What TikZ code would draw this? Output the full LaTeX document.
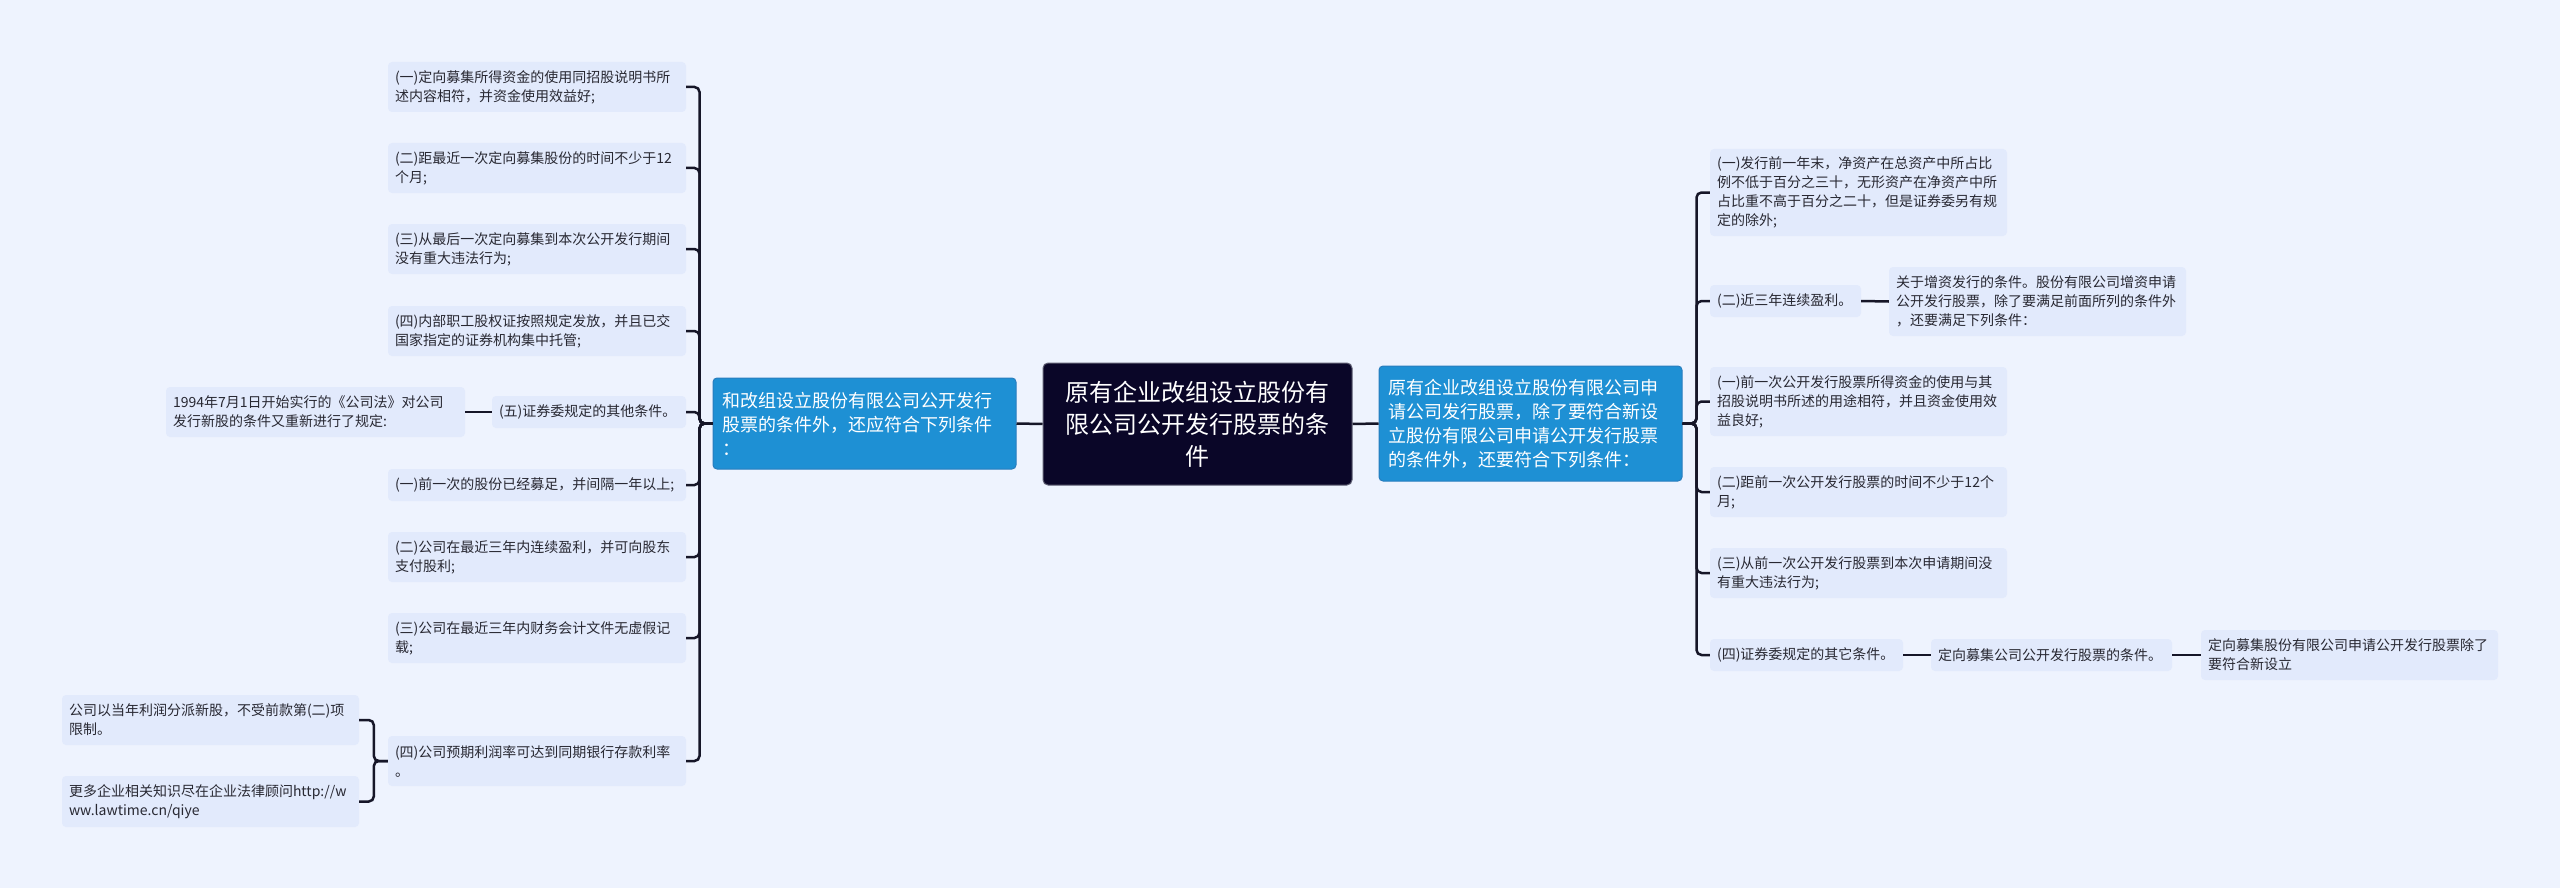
\documentclass[tikz,border=0pt]{standalone}
\usepackage{fontspec}
\setmainfont{Noto Sans CJK SC}
\definecolor{bg}{RGB}{238,243,254}
\definecolor{leaf}{RGB}{226,234,252}
\definecolor{blu}{RGB}{30,144,212}
\definecolor{bluedge}{RGB}{40,125,190}
\definecolor{dark}{RGB}{10,6,40}
\definecolor{darkedge}{RGB}{95,95,115}
\definecolor{ln}{RGB}{22,22,40}
\definecolor{txt}{RGB}{40,40,50}
\newcommand\mmnode[8]{%
  \pgfmathsetmacro\mmw{#5-#3}%
  \pgfmathsetmacro\mmh{#6-#4}%
  \pgfmathsetmacro\mmtw{#5-#3-2*#7}%
  \node[#1, inner xsep=#7pt, minimum width=\mmw pt, minimum height=\mmh pt, text width=\mmtw pt] (#2) at ({(#3+#5)/2},{(#4+#6)/2}) {#8};%
}
\tikzset{
  leafbox/.style={fill=leaf, rounded corners=4pt, text=txt, align=left, font=\fontsize{14pt}{19pt}\selectfont, inner ysep=0pt},
  bluebox/.style={fill=blu, draw=bluedge, line width=1pt, rounded corners=4pt, text=white, align=left, font=\fontsize{18pt}{24pt}\selectfont, inner ysep=0pt},
  rootbox/.style={fill=dark, draw=darkedge, line width=1pt, rounded corners=5pt, text=white, align=center, font=\fontsize{24pt}{32pt}\selectfont, inner ysep=0pt},
  conn/.style={draw=ln, line width=2.5pt, rounded corners=5pt}
}
\begin{document}
\begin{tikzpicture}[x=1pt,y=-1pt]
\fill[bg] (0,0) rectangle (2560,888);
\useasboundingbox (0,0) rectangle (2560,888);

% center
\mmnode{rootbox}{root}{1043}{363}{1352}{485}{10}{原有企业改组设立股份有\\限公司公开发行股票的条\\件}
\mmnode{bluebox}{lb}{713}{378}{1016}{469}{9}{和改组设立股份有限公司公开发行\\股票的条件外，还应符合下列条件\\：}
\mmnode{bluebox}{rb}{1379}{366}{1682}{481}{9}{原有企业改组设立股份有限公司申\\请公司发行股票，除了要符合新设\\立股份有限公司申请公开发行股票\\的条件外，还要符合下列条件：}

% left
\mmnode{leafbox}{L1}{388}{62}{686}{112}{7}{(一)定向募集所得资金的使用同招股说明书所\\述内容相符，并资金使用效益好;}
\mmnode{leafbox}{L2}{388}{143}{686}{193}{7}{(二)距最近一次定向募集股份的时间不少于12\\个月;}
\mmnode{leafbox}{L3}{388}{224}{686}{274}{7}{(三)从最后一次定向募集到本次公开发行期间\\没有重大违法行为;}
\mmnode{leafbox}{L4}{388}{306}{686}{356}{7}{(四)内部职工股权证按照规定发放，并且已交\\国家指定的证券机构集中托管;}
\mmnode{leafbox}{L5}{492}{396}{686}{428}{7}{(五)证券委规定的其他条件。}
\mmnode{leafbox}{L5c}{166}{387}{465}{437}{7}{1994年7月1日开始实行的《公司法》对公司\\发行新股的条件又重新进行了规定:}
\mmnode{leafbox}{L6}{388}{469}{686}{501}{7}{(一)前一次的股份已经募足，并间隔一年以上;}
\mmnode{leafbox}{L7}{388}{532}{686}{582}{7}{(二)公司在最近三年内连续盈利，并可向股东\\支付股利;}
\mmnode{leafbox}{L8}{388}{613}{686}{663}{7}{(三)公司在最近三年内财务会计文件无虚假记\\载;}
\mmnode{leafbox}{L9}{388}{736}{686}{786}{7}{(四)公司预期利润率可达到同期银行存款利率\\。}
\mmnode{leafbox}{C1}{62}{695}{359}{745}{7}{公司以当年利润分派新股，不受前款第(二)项\\限制。}
\mmnode{leafbox}{C2}{62}{776}{359}{827}{7}{更多企业相关知识尽在企业法律顾问http://w\\ww.lawtime.cn/qiye}

% right
\mmnode{leafbox}{R1}{1710}{149}{2007}{236}{7}{(一)发行前一年末，净资产在总资产中所占比\\例不低于百分之三十，无形资产在净资产中所\\占比重不高于百分之二十，但是证券委另有规\\定的除外;}
\mmnode{leafbox}{R2}{1710}{285}{1861}{317}{7}{(二)近三年连续盈利。}
\mmnode{leafbox}{R2c}{1889}{267}{2186}{336}{7}{关于增资发行的条件。股份有限公司增资申请\\公开发行股票，除了要满足前面所列的条件外\\，还要满足下列条件：}
\mmnode{leafbox}{R3}{1710}{367}{2007}{436}{7}{(一)前一次公开发行股票所得资金的使用与其\\招股说明书所述的用途相符，并且资金使用效\\益良好;}
\mmnode{leafbox}{R4}{1710}{467}{2007}{517}{7}{(二)距前一次公开发行股票的时间不少于12个\\月;}
\mmnode{leafbox}{R5}{1710}{548}{2007}{598}{7}{(三)从前一次公开发行股票到本次申请期间没\\有重大违法行为;}
\mmnode{leafbox}{R6}{1710}{639}{1903}{671}{7}{(四)证券委规定的其它条件。}
\mmnode{leafbox}{R6c1}{1931}{639}{2172}{671}{7}{定向募集公司公开发行股票的条件。}
\mmnode{leafbox}{R6c2}{2201}{630}{2498}{680}{7}{定向募集股份有限公司申请公开发行股票除了\\要符合新设立}

% connectors
\draw[conn] (root.west) -- (lb.east);
\draw[conn] (root.east) -- (rb.west);
\foreach \c in {L1,L2,L3,L4,L5,L6,L7,L8,L9}
  \draw[conn] (lb.west) -- ++(-13,0) |- (\c.east);
\draw[conn] (L5.west) -- (L5c.east);
\foreach \c in {C1,C2}
  \draw[conn] (L9.west) -- ++(-14,0) |- (\c.east);
\foreach \c in {R1,R2,R3,R4,R5,R6}
  \draw[conn] (rb.east) -- ++(14,0) |- (\c.west);
\draw[conn] (R2.east) -- (R2c.west);
\draw[conn] (R6.east) -- (R6c1.west);
\draw[conn] (R6c1.east) -- (R6c2.west);
\end{tikzpicture}
\end{document}
